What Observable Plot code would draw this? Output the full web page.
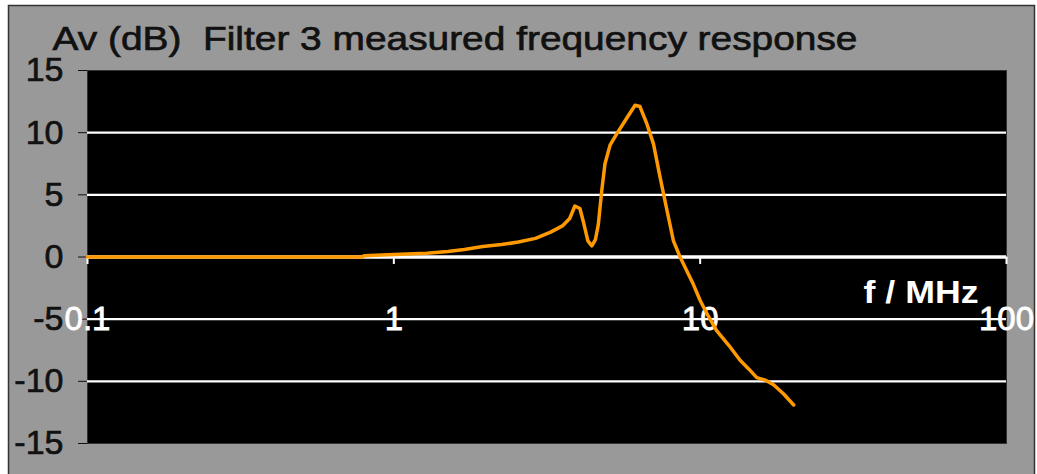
<!DOCTYPE html>
<html>
<head>
<meta charset="utf-8">
<script src="https://cdn.jsdelivr.net/npm/d3@7"></script>
<script src="https://cdn.jsdelivr.net/npm/@observablehq/plot@0.6"></script>
<style>
  html, body { margin: 0; padding: 0; background: #fff; }
  svg text { font-family: "Liberation Sans", Arial, sans-serif; }
  g.ttl text, g[aria-label="y-axis tick label"] text { stroke: #111; stroke-width: 0.7px; }
  g.xtl text { stroke: #fff; stroke-width: 0.8px; }
</style>
</head>
<body>
<div id="chart"></div>
<script>
const title = "Av (dB)  Filter 3 measured frequency response";
const xLabel = "f / MHz";
const freq = [0.1, 0.3, 0.79, 0.8, 1.0, 1.28, 1.5, 1.7, 1.95, 2.25, 2.55, 2.9, 3.25, 3.55, 3.75, 3.9, 4.05, 4.15, 4.3, 4.43, 4.55, 4.65, 4.77, 4.89, 5.08, 5.34, 5.77, 6.13, 6.36, 6.7, 7.04, 7.4, 7.8, 8.18, 8.6, 9.04, 9.5, 10, 10.6, 11.3, 12.4, 13.5, 14.4, 15.3, 16.3, 17.4, 18.7, 20.2];
const gainDb = [0, 0, 0, 0.1, 0.2, 0.3, 0.45, 0.6, 0.85, 1.0, 1.2, 1.5, 2.0, 2.5, 3.1, 4.1, 3.9, 2.9, 1.3, 0.9, 1.4, 2.6, 5.3, 7.5, 9.0, 9.9, 11.2, 12.2, 12.1, 10.7, 9.1, 6.4, 3.7, 1.3, 0, -1.1, -2.2, -3.5, -4.7, -5.9, -7.1, -8.3, -9.0, -9.7, -9.9, -10.3, -11.0, -11.9];
const xTicks = [0.1, 1, 10, 100];
const xTickLabels = ["0.1", "1", "10", "100"];
const yTicks = [-15, -10, -5, 0, 5, 10, 15];
const gridY = [-10, -5, 5, 10];
const zeroY = [0];

const data = freq.map((f, i) => ({f, db: gainDb[i]}));
const xlab = xTicks.map((t, i) => ({t, label: xTickLabels[i]}));

const svg = Plot.plot({
  width: 1037,
  height: 474,
  marginLeft: 87,
  marginRight: 31,
  marginTop: 70,
  marginBottom: 31,
  style: {background: "transparent", fontFamily: "Liberation Sans, Arial, sans-serif", overflow: "visible"},
  x: {type: "log", domain: [0.1, 100], axis: null},
  y: {domain: [-15, 15], axis: null},
  marks: [
    Plot.frame({fill: "black", stroke: "#333"}),
    Plot.ruleY(gridY, {stroke: "white", strokeWidth: 2.2}),
    Plot.ruleY(zeroY, {stroke: "white", strokeWidth: 3.5}),
    Plot.ruleX(xTicks, {y1: 0, y2: -0.6, stroke: "white", strokeWidth: 2}),
    Plot.axisY({ticks: yTicks, label: null, tickSize: 9, tickPadding: 15, fontSize: 34, color: "#111", tickFormat: d => String(d).replace("−", "-")}),
    Plot.text(xlab, {x: "t", y: -5, text: "label", fill: "white", fontSize: 33, lineAnchor: "middle", className: "xtl"}),
    Plot.line(data, {x: "f", y: "db", stroke: "#FF9900", strokeWidth: 3.5}),
    Plot.text([xLabel], {frameAnchor: "right", textAnchor: "end", dx: -28, dy: 36, fill: "white", fontSize: 32, fontWeight: "bold", className: "xlab"}),
    Plot.text([title], {frameAnchor: "top-left", textAnchor: "start", lineAnchor: "bottom", dx: -35, dy: -21, fill: "#111", fontSize: 34, className: "ttl"})
  ]
});

const s = d3.select(svg);
s.insert("rect", ":first-child")
  .attr("x", 8.5).attr("y", 5.5).attr("width", 1026).attr("height", 475)
  .attr("fill", "#999999").attr("stroke", "#333").attr("stroke-width", 1.5);
s.selectAll("g.ttl text").attr("textLength", 805).attr("lengthAdjust", "spacingAndGlyphs");
s.selectAll("g.xlab text").attr("textLength", 115).attr("lengthAdjust", "spacingAndGlyphs");
document.getElementById("chart").appendChild(svg);
</script>
</body>
</html>
